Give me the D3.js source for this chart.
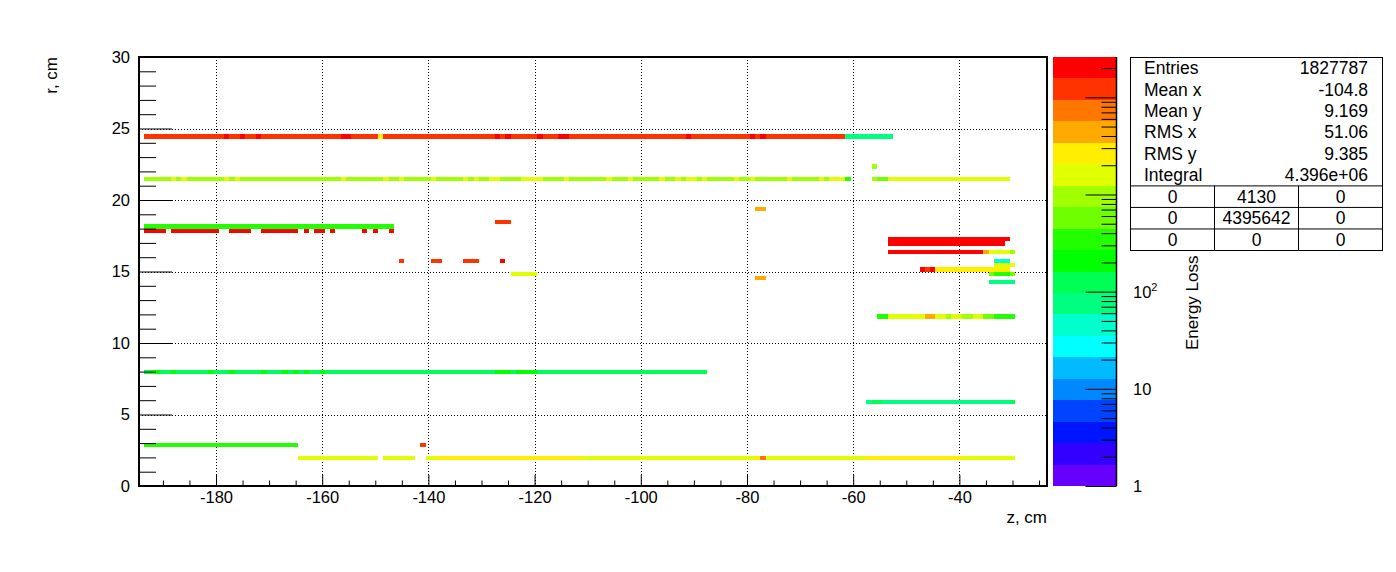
<!DOCTYPE html>
<html><head><meta charset="utf-8">
<script src="https://cdn.jsdelivr.net/npm/d3@7"></script>
<style>
body{margin:0;background:#fff}
svg{display:block}
text{font-family:"Liberation Sans",Arial,Helvetica,sans-serif;fill:#000}
</style>
</head><body>
<svg id="chart" width="1396" height="572"></svg>
<script>
// ---------------- data ----------------
const zDomain = [-194.5, -23.5];      // z range (cm), 1 cm bins centred on integers
const rDomain = [0, 30];              // r range (cm)
const rBinWidth = 0.3;
const energyMax = 26000;              // top of the colour scale
const nContours = 20;
const xTickValues = [-180, -160, -140, -120, -100, -80, -60, -40];
const yTickValues = [0, 5, 10, 15, 20, 25, 30];
const colorTickValues = [1, 10, 100, 1000, 10000];
const colorLabelValues = [1, 10, 100];   // 10^3 and 10^4 labels are hidden behind the stats box
const paletteColors = ["#6600FF","#3300FF","#0015FF","#0044FF","#0088FF","#00BBFF","#00FFFF","#00FFCC",
  "#00FF80","#00FF55","#00FF00","#22FF00","#6FFF00","#A0FF00","#E0FF00","#FFEE00","#FFAA00","#FF7700","#FF3300","#FF0000"];

// runs of filled bins: [first z bin, last z bin, lower r edge, energy loss]; later runs override earlier ones
const outerRuns = [
  [-193,-62,24.3,12000],
  [-178,-178,24.3,20000],[-175,-175,24.3,20000],[-172,-172,24.3,20000],[-156,-155,24.3,20000],
  [-149,-149,24.3,2640],[-127,-127,24.3,20000],[-125,-125,24.3,20000],[-119,-119,24.3,20000],
  [-115,-114,24.3,20000],[-91,-91,24.3,20000],[-79,-79,24.3,20000],[-77,-77,24.3,20000],
  [-61,-53,24.3,75],
  [-193,-62,21.3,950],
  [-188,-188,21.3,1590],[-186,-186,21.3,1590],[-178,-178,21.3,1590],[-176,-176,21.3,1590],
  [-156,-156,21.3,1590],[-148,-148,21.3,1590],[-145,-145,21.3,1590],[-139,-139,21.3,1590],
  [-133,-133,21.3,1590],[-131,-131,21.3,1590],[-128,-127,21.3,1590],[-122,-119,21.3,1590],
  [-114,-114,21.3,1590],[-106,-106,21.3,1590],[-102,-102,21.3,1590],[-96,-96,21.3,1590],
  [-93,-93,21.3,1590],[-91,-90,21.3,1590],[-88,-88,21.3,1590],[-82,-82,21.3,1590],
  [-79,-79,21.3,1590],[-72,-72,21.3,1590],[-66,-66,21.3,1590],[-64,-62,21.3,1590],
  [-61,-61,21.3,350],
  [-56,-56,21.3,950],[-55,-54,21.3,575],[-53,-31,21.3,1590],
  [-56,-56,22.2,950],
  [-193,-147,18.0,350],
  [-193,-190,17.7,20000],[-188,-180,17.7,20000],[-177,-174,17.7,20000],[-171,-165,17.7,20000],
  [-163,-163,17.7,20000],[-161,-160,17.7,20000],[-158,-158,17.7,20000],[-152,-152,17.7,20000],
  [-150,-150,17.7,20000],[-147,-147,17.7,20000],
  [-127,-125,18.3,12000],
  [-145,-145,15.6,12000],[-139,-138,15.6,12000],[-133,-131,15.6,12000],[-126,-126,15.6,20000],
  [-124,-120,14.7,1590],
  [-78,-77,19.2,4400],[-78,-77,14.4,4400]
];
const endcapRuns = [
  [-53,-31,17.1,20000],
  [-53,-32,16.8,20000],
  [-53,-36,16.2,20000],[-35,-35,16.2,4400],[-34,-31,16.2,1590],[-30,-30,16.2,950],
  [-33,-31,15.6,45],
  [-33,-30,15.3,1590],
  [-47,-47,15.0,20000],[-46,-46,15.0,12000],[-45,-45,15.0,20000],[-44,-31,15.0,2640],
  [-34,-34,14.7,575],[-33,-31,14.7,350],[-30,-30,14.7,575],
  [-34,-30,14.1,75],
  [-55,-54,11.7,350],[-53,-47,11.7,1590],[-46,-45,11.7,4400],[-44,-43,11.7,1590],[-42,-42,11.7,950],
  [-41,-40,11.7,1590],[-39,-38,11.7,950],[-37,-36,11.7,1590],[-35,-34,11.7,575],[-33,-30,11.7,350]
];
const innerRuns = [
  [-193,-88,7.8,125],
  [-192,-191,7.8,210],[-188,-188,7.8,210],[-181,-181,7.8,210],[-177,-177,7.8,210],[-171,-171,7.8,210],
  [-167,-167,7.8,210],[-165,-165,7.8,210],[-163,-163,7.8,210],[-160,-160,7.8,210],
  [-127,-125,7.8,210],[-123,-120,7.8,210],
  [-57,-57,5.7,75],[-56,-55,5.7,125],[-54,-31,5.7,75],[-30,-30,5.7,125],
  [-193,-165,2.7,350],[-141,-141,2.7,12000],
  [-164,-150,1.8,1590],[-148,-143,1.8,1590],[-140,-139,1.8,1590],[-138,-112,1.8,2640],
  [-111,-79,1.8,1590],[-78,-78,1.8,2640],[-77,-77,1.8,7300],[-76,-58,1.8,1590],
  [-57,-40,1.8,2640],[-39,-30,1.8,1590]
];
const statsLabels = ["Entries", "Mean x", "Mean y", "RMS x", "RMS y", "Integral"];
const statsValues = ["1827787", "-104.8", "9.169", "51.06", "9.385", "4.396e+06"];
const statsTable = [["0","4130","0"], ["0","4395642","0"], ["0","0","0"]];

// ---------------- layout ----------------
const frame = {x0: 139, x1: 1047, y0: 57, y1: 486};
const bar = {x0: 1053, x1: 1116.5};
const box = {x: 1130.5, y: 57.5, w: 252, h: 193};

const svg = d3.select("#chart");
const x = d3.scaleLinear().domain(zDomain).range([frame.x0, frame.x1]);
const y = d3.scaleLinear().domain(rDomain).range([frame.y1, frame.y0]);
const cLevel = d3.scaleLog().domain([1, energyMax]).range([0, nContours]);
const cAxis = d3.scaleLog().domain([1, energyMax]).range([frame.y1, frame.y0]);
const levelOf = e => Math.max(0, Math.min(nContours - 1, Math.floor(cLevel(e))));

// ---------------- grid ----------------
const grid = svg.append("g").attr("stroke", "#000").attr("stroke-width", 1).attr("stroke-dasharray", "1,2");
grid.selectAll(".gx").data(xTickValues).join("line")
  .attr("x1", d => Math.round(x(d)) + 0.5).attr("x2", d => Math.round(x(d)) + 0.5)
  .attr("y1", frame.y0).attr("y2", frame.y1);
grid.selectAll(".gy").data(yTickValues.filter(v => v > 0 && v < 30)).join("line")
  .attr("y1", d => Math.round(y(d)) + 0.5).attr("y2", d => Math.round(y(d)) + 0.5)
  .attr("x1", frame.x0).attr("x2", frame.x1);

// ---------------- cells ----------------
const cellMap = new Map();
[...outerRuns, ...endcapRuns, ...innerRuns].forEach(([z0, z1, r, e]) => {
  for (let z = z0; z <= z1; z++) cellMap.set(z + "|" + r, {z, r, lvl: levelOf(e)});
});
const rows = d3.group([...cellMap.values()], d => d.r);
const merged = [];
rows.forEach((cells, r) => {
  cells.sort((a, b) => a.z - b.z);
  let cur = null;
  cells.forEach(c => {
    if (cur && c.z === cur.z1 + 1 && c.lvl === cur.lvl) cur.z1 = c.z;
    else { cur = {r, z0: c.z, z1: c.z, lvl: c.lvl}; merged.push(cur); }
  });
});
svg.append("g").attr("shape-rendering", "crispEdges")
  .selectAll("rect").data(merged).join("rect")
  .attr("x", d => x(d.z0 - 0.5))
  .attr("width", d => x(d.z1 + 0.5) - x(d.z0 - 0.5))
  .attr("y", d => y(d.r + rBinWidth))
  .attr("height", d => y(d.r) - y(d.r + rBinWidth))
  .attr("fill", d => paletteColors[d.lvl]);

// ---------------- axes ----------------
const xMinor = d3.range(-190, -24, 5).filter(v => v % 20 !== 0);
const yMinor = d3.range(0, 31, 1).filter(v => v % 5 !== 0);
const gx = svg.append("g").attr("transform", `translate(0,${frame.y1})`)
  .call(d3.axisBottom(x).tickValues(xTickValues).tickSize(-11).tickSizeOuter(0).tickPadding(5).tickFormat(d => String(d)));
const gxm = svg.append("g").attr("transform", `translate(0,${frame.y1})`)
  .call(d3.axisBottom(x).tickValues(xMinor).tickSize(-5.5).tickSizeOuter(0).tickFormat(""));
const gy = svg.append("g").attr("transform", `translate(${frame.x0},0)`)
  .call(d3.axisLeft(y).tickValues(yTickValues).tickSize(-33).tickSizeOuter(0).tickPadding(9).tickFormat(d => String(d)));
const gym = svg.append("g").attr("transform", `translate(${frame.x0},0)`)
  .call(d3.axisLeft(y).tickValues(yMinor).tickSize(-17).tickSizeOuter(0).tickFormat(""));
[gx, gxm, gy, gym].forEach(g => {
  g.select(".domain").remove();
  g.selectAll("line").attr("stroke", "#000").attr("stroke-width", 1);
  g.selectAll("text").attr("font-size", 16.5).attr("font-family", "Liberation Sans, Arial, sans-serif").attr("fill", "#000");
});

// frame
svg.append("rect").attr("x", frame.x0).attr("y", frame.y0)
  .attr("width", frame.x1 - frame.x0).attr("height", frame.y1 - frame.y0)
  .attr("fill", "none").attr("stroke", "#000").attr("stroke-width", 2);

// axis titles
svg.append("text").attr("x", frame.x1).attr("y", 523).attr("text-anchor", "end")
  .attr("font-size", 17).text("z, cm");
svg.append("text").attr("transform", `translate(57,${frame.y0}) rotate(-90)`).attr("text-anchor", "end")
  .attr("font-size", 17).text("r, cm");

// ---------------- colour bar ----------------
const bands = d3.range(nContours).map(k => ({k, lo: cLevel.invert(k), hi: cLevel.invert(k + 1)}));
svg.append("g").attr("shape-rendering", "crispEdges")
  .selectAll("rect").data(bands).join("rect")
  .attr("x", bar.x0).attr("width", bar.x1 - bar.x0)
  .attr("y", d => cAxis(d.hi)).attr("height", d => cAxis(d.lo) - cAxis(d.hi))
  .attr("fill", d => paletteColors[d.k]);
const cMinor = [];
for (let dec = 1; dec <= 10000; dec *= 10) for (let m = 2; m <= 9; m++) if (dec * m < energyMax) cMinor.push(dec * m);
const gc = svg.append("g").attr("transform", `translate(${bar.x1},0)`)
  .call(d3.axisRight(cAxis).tickValues(colorTickValues).tickSize(-31).tickSizeOuter(0).tickFormat(""));
const gcm = svg.append("g").attr("transform", `translate(${bar.x1},0)`)
  .call(d3.axisRight(cAxis).tickValues(cMinor).tickSize(-15).tickSizeOuter(0).tickFormat(""));
[gc, gcm].forEach(g => { g.select(".domain").remove(); g.selectAll("line").attr("stroke", "#000"); });
svg.append("line").attr("x1", bar.x1).attr("x2", bar.x1).attr("y1", frame.y0).attr("y2", frame.y1)
  .attr("stroke", "#000").attr("stroke-width", 1.5);
const cl = svg.append("g").selectAll("text").data(colorLabelValues).join("text")
  .attr("x", 1133).attr("y", d => cAxis(d) + 6).attr("font-size", 16.5);
cl.each(function(d) {
  const t = d3.select(this);
  const p = Math.round(Math.log10(d));
  if (p <= 1) t.text(String(d));
  else { t.append("tspan").text("10"); t.append("tspan").attr("dy", -7).attr("font-size", 11).text(String(p)); }
});
svg.append("text").attr("transform", `translate(1198,350) rotate(-90)`)
  .attr("font-size", 17).text("Energy Loss");

// ---------------- stats box ----------------
const sb = svg.append("g");
sb.append("rect").attr("x", box.x).attr("y", box.y).attr("width", box.w).attr("height", box.h)
  .attr("fill", "#fff").attr("stroke", "#000").attr("stroke-width", 1);
const rowH = 21.4;
sb.selectAll(".sl").data(statsLabels).join("text")
  .attr("x", 1144).attr("y", (d, i) => box.y + rowH * (i + 0.5) + 6).attr("font-size", 17.5).text(d => d);
sb.selectAll(".sv").data(statsValues).join("text")
  .attr("x", 1368).attr("y", (d, i) => box.y + rowH * (i + 0.5) + 6).attr("font-size", 17.5)
  .attr("text-anchor", "end").text(d => d);
const tTop = box.y + rowH * 6, tRowH = (box.y + box.h - tTop) / 3, colW = box.w / 3;
sb.selectAll(".hl").data([0, 1, 2]).join("line")
  .attr("x1", box.x).attr("x2", box.x + box.w)
  .attr("y1", i => tTop + i * tRowH).attr("y2", i => tTop + i * tRowH)
  .attr("stroke", "#000").attr("stroke-width", 1);
sb.selectAll(".vl").data([1, 2]).join("line")
  .attr("x1", i => box.x + i * colW).attr("x2", i => box.x + i * colW)
  .attr("y1", tTop).attr("y2", box.y + box.h).attr("stroke", "#000").attr("stroke-width", 1);
statsTable.forEach((row, ri) => {
  sb.selectAll(".tr" + ri).data(row).join("text")
    .attr("x", (d, ci) => box.x + colW * (ci + 0.5))
    .attr("y", tTop + tRowH * (ri + 0.5) + 6)
    .attr("text-anchor", "middle").attr("font-size", 17.5).text(d => d);
});
</script>
</body></html>
